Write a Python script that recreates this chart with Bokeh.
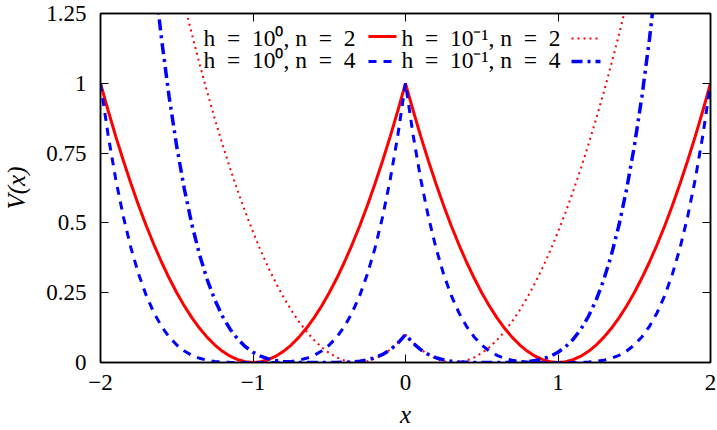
from bokeh.plotting import figure
from bokeh.models import Range1d, FixedTicker, LinearAxis, Label, Arrow
from bokeh.embed import file_html
from bokeh.resources import INLINE

# ---------------- data ----------------
X = [-2.0, -1.95, -1.9, -1.85, -1.8, -1.75, -1.7, -1.65, -1.6, -1.55,
     -1.5, -1.45, -1.4, -1.35, -1.3, -1.25, -1.2, -1.15, -1.1, -1.05,
     -1.0, -0.95, -0.9, -0.85, -0.8, -0.75, -0.7, -0.65, -0.6, -0.55,
     -0.5, -0.45, -0.4, -0.35, -0.3, -0.25, -0.2, -0.15, -0.1, -0.05,
     0.0, 0.05, 0.1, 0.15, 0.2, 0.25, 0.3, 0.35, 0.4, 0.45,
     0.5, 0.55, 0.6, 0.65, 0.7, 0.75, 0.8, 0.85, 0.9, 0.95,
     1.0, 1.05, 1.1, 1.15, 1.2, 1.25, 1.3, 1.35, 1.4, 1.45,
     1.5, 1.55, 1.6, 1.65, 1.7, 1.75, 1.8, 1.85, 1.9, 1.95, 2.0]

# h = 10^0, n = 2
V_H1_N2 = [1.0, 0.9025, 0.81, 0.7225, 0.64, 0.5625, 0.49, 0.4225, 0.36, 0.3025,
           0.25, 0.2025, 0.16, 0.1225, 0.09, 0.0625, 0.04, 0.0225, 0.01, 0.0025,
           0.0, 0.0025, 0.01, 0.0225, 0.04, 0.0625, 0.09, 0.1225, 0.16, 0.2025,
           0.25, 0.3025, 0.36, 0.4225, 0.49, 0.5625, 0.64, 0.7225, 0.81, 0.9025,
           1.0, 0.9025, 0.81, 0.7225, 0.64, 0.5625, 0.49, 0.4225, 0.36, 0.3025,
           0.25, 0.2025, 0.16, 0.1225, 0.09, 0.0625, 0.04, 0.0225, 0.01, 0.0025,
           0.0, 0.0025, 0.01, 0.0225, 0.04, 0.0625, 0.09, 0.1225, 0.16, 0.2025,
           0.25, 0.3025, 0.36, 0.4225, 0.49, 0.5625, 0.64, 0.7225, 0.81, 0.9025, 1.0]

# h = 10^0, n = 4
V_H1_N4 = [1.0, 0.8145, 0.6561, 0.522, 0.4096, 0.3164, 0.2401, 0.1785, 0.1296, 0.0915,
           0.0625, 0.041, 0.0256, 0.015, 0.0081, 0.0039, 0.0016, 0.0005, 0.0001, 0.0,
           0.0, 0.0, 0.0001, 0.0005, 0.0016, 0.0039, 0.0081, 0.015, 0.0256, 0.041,
           0.0625, 0.0915, 0.1296, 0.1785, 0.2401, 0.3164, 0.4096, 0.522, 0.6561, 0.8145,
           1.0, 0.8145, 0.6561, 0.522, 0.4096, 0.3164, 0.2401, 0.1785, 0.1296, 0.0915,
           0.0625, 0.041, 0.0256, 0.015, 0.0081, 0.0039, 0.0016, 0.0005, 0.0001, 0.0,
           0.0, 0.0, 0.0001, 0.0005, 0.0016, 0.0039, 0.0081, 0.015, 0.0256, 0.041,
           0.0625, 0.0915, 0.1296, 0.1785, 0.2401, 0.3164, 0.4096, 0.522, 0.6561, 0.8145, 1.0]

# h = 10^-1, n = 2  (x from -1.5 to 1.5)
X_H01_N2 = X[10:71]
V_H01_N2 = [1.4014, 1.2855, 1.1746, 1.0687, 0.9679, 0.872, 0.7811, 0.6952, 0.6143, 0.5385,
            0.4676, 0.4017, 0.3408, 0.2849, 0.2341, 0.1882, 0.1473, 0.1114, 0.0805, 0.0547,
            0.0338, 0.0179, 0.007, 0.0011, 0.0003, 0.0044, 0.0135, 0.0276, 0.0467, 0.0709,
            0.1, 0.0709, 0.0467, 0.0276, 0.0135, 0.0044, 0.0003, 0.0011, 0.007, 0.0179,
            0.0338, 0.0547, 0.0805, 0.1114, 0.1473, 0.1882, 0.2341, 0.2849, 0.3408, 0.4017,
            0.4676, 0.5385, 0.6143, 0.6952, 0.7811, 0.872, 0.9679, 1.0687, 1.1746, 1.2855, 1.4014]

# h = 10^-1, n = 4  (x from -1.65 to 1.65)
X_H01_N4 = X[7:74]
V_H01_N4 = [1.3997, 1.1595, 0.9517, 0.7731, 0.621, 0.4924, 0.385, 0.2962, 0.2237, 0.1654,
            0.1193, 0.0836, 0.0566, 0.0367, 0.0226, 0.013, 0.0069, 0.0032, 0.0012, 0.0004,
            0.0001, 0.0, 0.0, 0.0, 0.0002, 0.0007, 0.002, 0.0047, 0.0095, 0.0172,
            0.0289, 0.0457, 0.0689, 0.1, 0.0689, 0.0457, 0.0289, 0.0172, 0.0095, 0.0047,
            0.002, 0.0007, 0.0002, 0.0, 0.0, 0.0, 0.0001, 0.0004, 0.0012, 0.0032,
            0.0069, 0.013, 0.0226, 0.0367, 0.0566, 0.0836, 0.1193, 0.1654, 0.2237, 0.2962,
            0.385, 0.4924, 0.621, 0.7731, 0.9517, 1.1595, 1.3997]

X_TICKS = [-2, -1, 0, 1, 2]
X_TICK_LABELS = ["\u22122", "\u22121", "0", "1", "2"]
Y_TICKS = [0, 0.25, 0.5, 0.75, 1, 1.25]
Y_TICK_LABELS = ["0", "0.25", "0.5", "0.75", "1", "1.25"]
LEGEND_LABELS = ["h\u2002=\u200210\u2070, n\u2002=\u20022",
                 "h\u2002=\u200210\u2070, n\u2002=\u20024",
                 "h\u2002=\u200210\u207b\u00b9, n\u2002=\u20022",
                 "h\u2002=\u200210\u207b\u00b9, n\u2002=\u20024"]
X_LABEL = "x"
Y_LABEL = "V(x)"

RED = "#ff0000"
BLUE = "#0000ff"
FONT = "Liberation Serif"

# ---------------- figure ----------------
p = figure(width=717, height=430, x_range=Range1d(-2, 2), y_range=Range1d(0, 1.25),
           output_backend="svg", toolbar_location=None,
           min_border_left=97, min_border_right=7, min_border_top=13, min_border_bottom=64)
p.grid.visible = False
p.background_fill_color = "white"
p.border_fill_color = "white"
p.outline_line_color = "black"
p.outline_line_width = 1.5

def style_axis(ax, show_labels=True):
    ax.major_tick_in = 8
    ax.major_tick_out = 0
    ax.minor_tick_line_color = None
    ax.major_tick_line_color = "black"
    ax.major_tick_line_width = 1
    ax.axis_line_color = "black"
    ax.axis_line_width = 1.5
    ax.major_label_text_font = FONT
    ax.major_label_text_font_size = "23px"
    ax.major_label_text_color = "black"
    if not show_labels:
        ax.major_label_text_color = None
        ax.major_label_standoff = 0

p.xaxis.ticker = FixedTicker(ticks=X_TICKS)
p.yaxis.ticker = FixedTicker(ticks=Y_TICKS)
p.xaxis.major_label_overrides = {t: s for t, s in zip(X_TICKS, X_TICK_LABELS)}
p.yaxis.major_label_overrides = {t: s for t, s in zip(Y_TICKS, Y_TICK_LABELS)}
style_axis(p.xaxis[0])
style_axis(p.yaxis[0])
p.xaxis.major_label_standoff = 12
p.yaxis.major_label_standoff = 14

p.xaxis.axis_label = X_LABEL
p.yaxis.axis_label = Y_LABEL
for ax in (p.xaxis[0], p.yaxis[0]):
    ax.axis_label_text_font = FONT
    ax.axis_label_text_font_style = "italic"
    ax.axis_label_text_font_size = "25px"
    ax.axis_label_text_color = "black"
p.xaxis.axis_label_standoff = 8
p.yaxis.axis_label_standoff = 13

# frame ticks on the top and right sides, no labels there
top_ax = LinearAxis(ticker=FixedTicker(ticks=X_TICKS),
                    major_label_overrides={t: "" for t in X_TICKS})
right_ax = LinearAxis(ticker=FixedTicker(ticks=Y_TICKS),
                      major_label_overrides={t: "" for t in Y_TICKS})
style_axis(top_ax, show_labels=False)
style_axis(right_ax, show_labels=False)
p.add_layout(top_ax, "above")
p.add_layout(right_ax, "right")

# ---------------- curves ----------------
p.line(X, V_H1_N2, line_color=RED, line_width=3)
p.line(X, V_H1_N4, line_color=BLUE, line_width=3, line_dash="8 7")
p.line(X_H01_N2, V_H01_N2, line_color=RED, line_width=2, line_dash="2 4")
p.line(X_H01_N4, V_H01_N4, line_color=BLUE, line_width=3.5, line_dash="11 5 3 5")

# ---------------- legend (text then sample, gnuplot style) ----------------
# positions in screen pixels relative to the plot frame (origin bottom-left)
legend_specs = [
    (LEGEND_LABELS[0], 255, 325, 268, 296, 326, RED, 3, "solid"),
    (LEGEND_LABELS[1], 255, 303, 268, 296, 301, BLUE, 3, "8 7"),
    (LEGEND_LABELS[2], 460, 325, 471, 500, 324, RED, 2, "2 4"),
    (LEGEND_LABELS[3], 460, 303, 471, 500, 301, BLUE, 3.5, "11 5 3 5"),
]
for txt, tx, ty, sx0, sx1, sy, col, lw, dash in legend_specs:
    p.add_layout(Label(x=tx, y=ty, x_units="screen", y_units="screen", text=txt,
                       text_font=FONT, text_font_size="23.5px", text_color="black",
                       text_align="right", text_baseline="alphabetic"))
    p.add_layout(Arrow(x_start=sx0, y_start=sy, x_end=sx1, y_end=sy,
                       start_units="screen", end_units="screen", end=None,
                       line_color=col, line_width=lw, line_dash=dash))

open("out.html", "w").write(file_html(p, INLINE))
